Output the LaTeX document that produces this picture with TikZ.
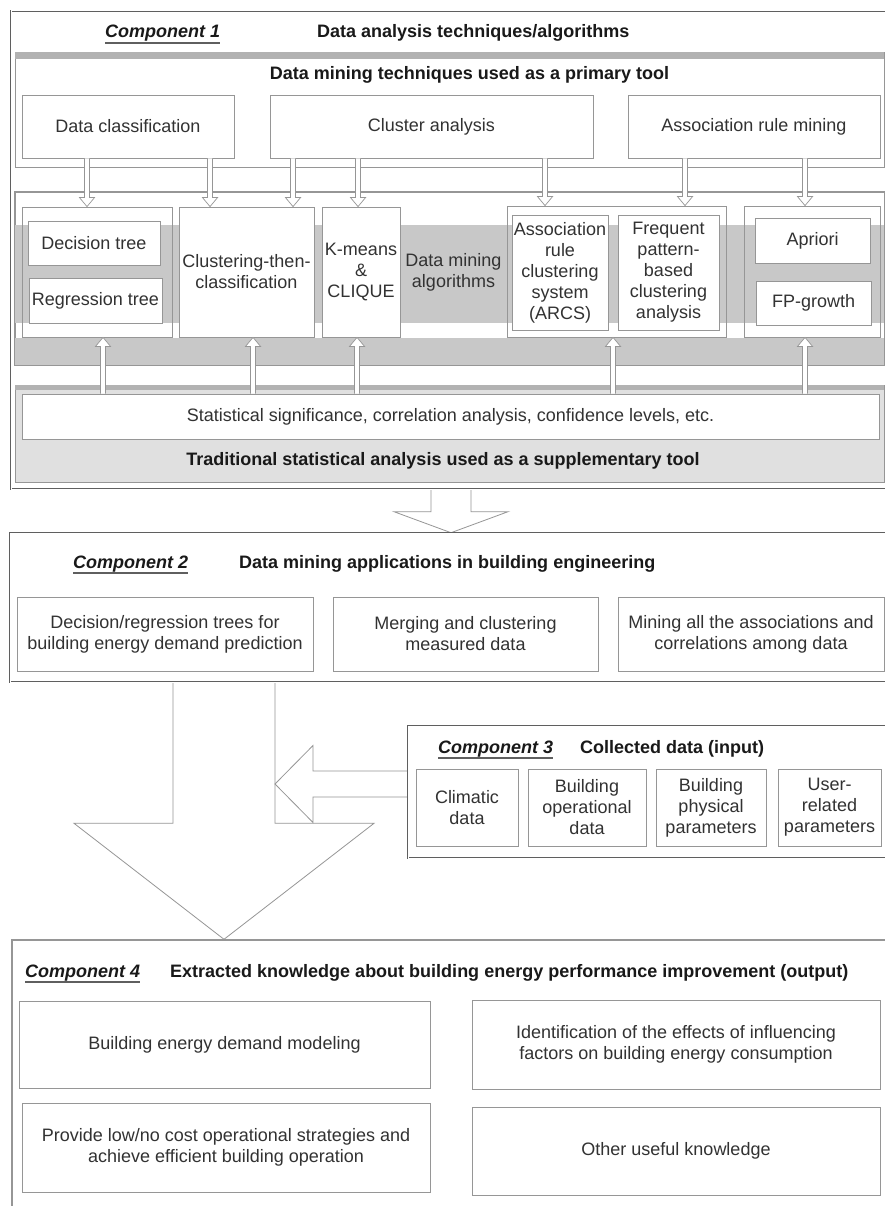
\documentclass[tikz,border=0pt]{standalone}
\usepackage{fontspec}
\setmainfont{Liberation Sans}
\usetikzlibrary{calc,backgrounds}
\definecolor{ln}{RGB}{150,150,150}
\definecolor{dk}{RGB}{95,95,95}
\definecolor{band}{RGB}{200,200,200}
\definecolor{bar}{RGB}{178,178,178}
\definecolor{sfill}{RGB}{224,224,224}
\definecolor{txt}{RGB}{50,50,50}
\definecolor{ttxt}{RGB}{25,25,25}
\newcommand\mkbox[7][]{\node[bx,#1,minimum width={(#5-#3)*1pt},minimum height={(#6-#4)*1pt}] (#2) at ({(#3+#5)/2},{(#4+#6)/2}) {#7};}
\begin{document}
\begin{tikzpicture}[x=1pt,y=-1pt,
  every node/.style={font=\fontsize{18}{21}\selectfont, text=txt, inner sep=0pt},
  bx/.style={draw=ln, line width=0.8pt, fill=white, align=center},
  grp/.style={fill=none},
  panel/.style={draw=ln, line width=0.8pt, fill=white},
  outer/.style={draw=dk, line width=0.6pt, double=white, double distance=1pt, fill=white},
  single/.style={draw=ln, line width=1.4pt, fill=white},
  ttl/.style={font=\fontsize{18}{21}\selectfont\bfseries, text=ttxt},
  cmp/.style={font=\fontsize{18}{21}\selectfont\bfseries\itshape, text=ttxt},
  ul/.style={draw=dk, line width=1.3pt},
  sarr/.style={draw=ln, fill=white, line width=0.7pt},
  adown/.style={sarr, to path={let \p1=(\tikztostart),\p2=(\tikztotarget) in
     (\x1-2.5pt,\y1) -- (\x1-2.5pt,\y2+9pt) -- (\x1-7.5pt,\y2+9pt) -- (\x1,\y2)
     -- (\x1+7.5pt,\y2+9pt) -- (\x1+2.5pt,\y2+9pt) -- (\x1+2.5pt,\y1)}},
  aup/.style={sarr, to path={let \p1=(\tikztostart),\p2=(\tikztotarget) in
     (\x1-2.5pt,\y1) -- (\x1-2.5pt,\y2-9pt) -- (\x1-7.5pt,\y2-9pt) -- (\x1,\y2)
     -- (\x1+7.5pt,\y2-9pt) -- (\x1+2.5pt,\y2-9pt) -- (\x1+2.5pt,\y1)}},
  bigarrow/.style={draw=ln, line width=0.8pt, fill=white},
  bigd/.style n args={3}{to path={let \p1=(\tikztostart),\p2=(\tikztotarget) in
     (\x1-#1,\y1) -- (\x1-#1,\y2+#3) -- (\x1-#2,\y2+#3) -- (\x1,\y2)
     -- (\x1+#2,\y2+#3) -- (\x1+#1,\y2+#3) -- (\x1+#1,\y1)}},
  bigl/.style n args={3}{to path={let \p1=(\tikztostart),\p2=(\tikztotarget) in
     (\x1,\y1+#1) -- (\x2+#3,\y1+#1) -- (\x2+#3,\y1+#2) -- (\x2,\y2)
     -- (\x2+#3,\y1-#2) -- (\x2+#3,\y1-#1) -- (\x1,\y1-#1)}}
]
\useasboundingbox (0,0) rectangle (885,1206);

% ================= Component 1 =================
\mkbox[outer]{comp1}{11}{11}{900}{489}{}
\node[cmp, anchor=base west] (c1) at (105,38) {Component 1};
\draw[ul] ([yshift=-5pt]c1.base west) -- ([yshift=-5pt]c1.base east);
\node[ttl, anchor=base west] (t1) at (317,38) {Data analysis techniques/algorithms};

% techniques panel
\mkbox[panel]{tp}{15}{52}{884}{167}{}
\fill[bar] (15,52) rectangle (884,59);
\node[ttl, anchor=base] (t1b) at (469.5,79.5) {Data mining techniques used as a primary tool};
\mkbox{dc}{22}{95}{234}{158}{Data classification}
\mkbox{ca}{270}{95}{593}{158}{Cluster analysis}
\mkbox{arm}{628}{95}{880}{158}{Association rule mining}

% algorithms panel
\mkbox[panel]{alp}{15}{192}{884}{365}{}
\fill[band] (15,225) rectangle (884,323);
\fill[band] (15,338) rectangle (884,365);
\draw[ln, line width=0.8pt] (alp.north west) rectangle (alp.south east);
\mkbox[grp]{lg}{22}{207}{172}{337}{}
\mkbox{dt}{28}{221}{160}{265}{Decision tree}
\mkbox{rt}{29}{278}{162}{323}{Regression tree}
\mkbox{ctc}{179}{207}{314}{337}{Clustering-then-\\classification}
\mkbox{km}{322}{207}{400}{337}{K-means\\\&\\CLIQUE}
\node[align=center] (dma) at (453.5,272) {Data mining\\algorithms};
\mkbox[grp]{ag}{507}{206}{726}{337}{}
\mkbox{arcs}{512}{215}{608}{330}{Association\\rule\\clustering\\system\\(ARCS)}
\mkbox{fpc}{618}{215}{719}{330}{Frequent\\pattern-\\based\\clustering\\analysis}
\mkbox[grp]{apg}{744}{206}{880}{337}{}
\mkbox{apr}{755}{218}{870}{263}{Apriori}
\mkbox{fpg}{756}{281}{871}{325}{FP-growth}

% statistics panel
\mkbox[panel, fill=sfill]{stp}{15}{385}{884}{482}{}
\fill[bar] (15,385) rectangle (884,390);
\mkbox{sb}{22}{394}{879}{439}{Statistical significance, correlation analysis, confidence levels, etc.}
\node[ttl, anchor=base] (t1c) at (443,465) {Traditional statistical analysis used as a supplementary tool};

% small arrows: techniques -> algorithms
\coordinate (d1) at (87,0);  \coordinate (d2) at (210,0); \coordinate (d3) at (293,0);
\coordinate (d4) at (358,0); \coordinate (d5) at (545,0); \coordinate (d6) at (685,0);
\coordinate (d7) at (805,0);
\draw[adown] (dc.south -| d1) to (lg.north -| d1);
\draw[adown] (dc.south -| d2) to (ctc.north -| d2);
\draw[adown] (ca.south -| d3) to (ctc.north -| d3);
\draw[adown] (ca.south -| d4) to (km.north -| d4);
\draw[adown] (ca.south -| d5) to (ag.north -| d5);
\draw[adown] (arm.south -| d6) to (ag.north -| d6);
\draw[adown] (arm.south -| d7) to (apg.north -| d7);

% small arrows: statistics -> algorithms
\coordinate (u1) at (103,0); \coordinate (u2) at (253,0); \coordinate (u3) at (357,0);
\coordinate (u4) at (613,0); \coordinate (u5) at (805,0);
\draw[aup] (sb.north -| u1) to (lg.south -| u1);
\draw[aup] (sb.north -| u2) to (ctc.south -| u2);
\draw[aup] (sb.north -| u3) to (km.south -| u3);
\draw[aup] (sb.north -| u4) to (ag.south -| u4);
\draw[aup] (sb.north -| u5) to (apg.south -| u5);

% ================= Component 2 =================
\mkbox[outer]{comp2}{10}{533}{900}{682}{}
\node[cmp, anchor=base west] (c2) at (73,568) {Component 2};
\draw[ul] ([yshift=-5pt]c2.base west) -- ([yshift=-5pt]c2.base east);
\node[ttl, anchor=base west] (t2) at (239,568) {Data mining applications in building engineering};
\mkbox{b21}{17}{597}{313}{671}{Decision/regression trees for\\building energy demand prediction}
\mkbox{b22}{333}{597}{598}{671}{Merging and clustering\\measured data}
\mkbox{b23}{618}{597}{884}{671}{Mining all the associations and\\correlations among data}

% ================= Component 3 =================
\mkbox[outer]{comp3}{408}{726}{900}{858}{}
\node[cmp, anchor=base west] (c3) at (438,753) {Component 3};
\draw[ul] ([yshift=-5pt]c3.base west) -- ([yshift=-5pt]c3.base east);
\node[ttl, anchor=base west] (t3) at (580,753) {Collected data (input)};
\mkbox{c31}{416}{769}{518}{846}{Climatic\\data}
\mkbox{c32}{528}{769}{646}{846}{Building\\operational\\data}
\mkbox{c33}{656}{769}{766}{846}{Building\\physical\\parameters}
\mkbox{c34}{778}{769}{881}{846}{User-\\related\\parameters}

% ================= Component 4 =================
\mkbox[single]{comp4}{12}{940}{900}{1230}{}
\node[cmp, anchor=base west] (c4) at (25,977) {Component 4};
\draw[ul] ([yshift=-5pt]c4.base west) -- ([yshift=-5pt]c4.base east);
\node[ttl, anchor=base west] (t4) at (170,977) {Extracted knowledge about building energy performance improvement (output)};
\mkbox{b41}{19}{1001}{430}{1088}{Building energy demand modeling}
\mkbox{b42}{472}{1000}{880}{1089}{Identification of the effects of influencing\\factors on building energy consumption}
\mkbox{b43}{22}{1103}{430}{1192}{Provide low/no cost operational strategies and\\achieve efficient building operation}
\mkbox{b44}{472}{1107}{880}{1195}{Other useful knowledge}

% ================= Block arrows (behind the boxes) =================
\coordinate (ax1) at (451,0);
\coordinate (ax2) at (224,0);
\coordinate (tipL) at (275,784);
\begin{pgfonlayer}{background}
\fill[white] (0,0) rectangle (885,1206);
\draw[bigarrow, bigd={20pt}{57pt}{21pt}] (comp1.south -| ax1) to (comp2.north -| ax1);
\draw[bigarrow, bigd={51pt}{150pt}{116pt}] (comp2.south -| ax2) to (comp4.north -| ax2);
\draw[bigarrow, bigl={13pt}{38.5pt}{38pt}] (comp3.west |- tipL) to (tipL);
\end{pgfonlayer}
\end{tikzpicture}
\end{document}
